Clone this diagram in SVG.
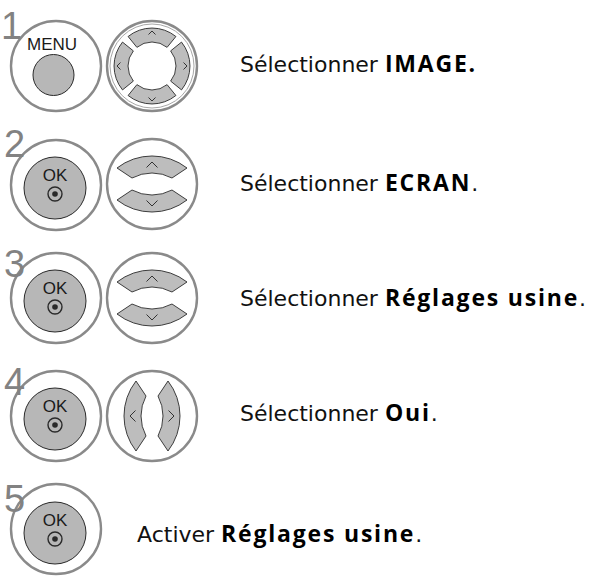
<svg xmlns="http://www.w3.org/2000/svg" xmlns:xlink="http://www.w3.org/1999/xlink" width="595" height="577" viewBox="0 0 595 577">
<style>
.ring{fill:#fff;stroke:#8a8a8a;stroke-width:2.4}
.ring2{fill:none;stroke:#a8a8a8;stroke-width:1}
.btn{fill:#b7b7b7;stroke:#2a2a2a;stroke-width:1}
.seg{fill:#bdbdbd;stroke:#2a2a2a;stroke-width:0.9;stroke-linejoin:round}
.chev{fill:none;stroke:#333;stroke-width:1}
.num{font-family:"Liberation Sans",Arial,sans-serif;font-size:38px;fill:#828282}
.lbl{font-family:"Liberation Sans",Arial,sans-serif;fill:#1a1a1a;text-anchor:middle}
.txt{font-family:"DejaVu Sans","Liberation Sans",sans-serif;font-size:22px;fill:#111}
.b{font-family:"Open Sans","DejaVu Sans",sans-serif;font-size:23px;font-weight:bold;letter-spacing:1.8px;fill:#000}
</style>
<defs>
<path id="arcseg" d="M-35,-16 A57,57 0 0 1 35,-16 L20,-6 A42.5,42.5 0 0 0 -20,-6 Z"/>
<path id="arcchev" d="M-5.5,-16.5 L0,-22 L5.5,-16.5"/>
<path id="ringseg" d="M-23.9,-29.5 A38,38 0 0 1 23.9,-29.5 L15.1,-18.65 A24,24 0 0 0 -15.1,-18.65 Z"/>
<path id="ringchev" d="M-3.5,-31.5 L0,-35 L3.5,-31.5"/>
<g id="okbtn">
<circle class="btn" cx="0" cy="3" r="31"/>
<text class="lbl" x="0" y="-4" font-size="17">OK</text>
<circle cx="0" cy="9" r="7" fill="none" stroke="#2a2a2a" stroke-width="1.4"/>
<circle cx="0" cy="9" r="2.8" fill="#2a2a2a"/>
</g>
</defs>

<g id="step1">
<circle class="ring" cx="56" cy="66" r="45"/>
<text class="num" x="1" y="39">1</text>
<text class="lbl" x="52" y="50" font-size="17">MENU</text>
<circle class="btn" cx="53.5" cy="75" r="20.5"/>
<g transform="translate(152,66)">
<circle class="ring" cx="0" cy="0" r="45"/>
<circle class="ring2" cx="0" cy="0" r="42"/>
<use xlink:href="#ringseg" class="seg"/>
<use xlink:href="#ringseg" class="seg" transform="scale(1,-1)"/>
<use xlink:href="#ringseg" class="seg" transform="rotate(-90)"/>
<use xlink:href="#ringseg" class="seg" transform="rotate(90)"/>
<use xlink:href="#ringchev" class="chev"/>
<use xlink:href="#ringchev" class="chev" transform="scale(1,-1)"/>
<use xlink:href="#ringchev" class="chev" transform="rotate(-90)"/>
<use xlink:href="#ringchev" class="chev" transform="rotate(90)"/>
</g>
<text class="txt" x="240" y="72">Sélectionner <tspan class="b">IMAGE.</tspan></text>
</g>

<g id="step2">
<circle class="ring" cx="56" cy="185" r="45"/>
<text class="num" x="4" y="157">2</text>
<use xlink:href="#okbtn" transform="translate(55,185)"/>
<g transform="translate(152,184)">
<circle class="ring" cx="0" cy="0" r="45"/>
<use xlink:href="#arcseg" class="seg"/>
<use xlink:href="#arcseg" class="seg" transform="scale(1,-1)"/>
<use xlink:href="#arcchev" class="chev"/>
<use xlink:href="#arcchev" class="chev" transform="scale(1,-1)"/>
</g>
<text class="txt" x="240" y="191">Sélectionner <tspan class="b">ECRAN</tspan>.</text>
</g>

<g id="step3">
<circle class="ring" cx="56" cy="298" r="45"/>
<text class="num" x="4" y="277">3</text>
<use xlink:href="#okbtn" transform="translate(55,298)"/>
<g transform="translate(152,298)">
<circle class="ring" cx="0" cy="0" r="45"/>
<use xlink:href="#arcseg" class="seg"/>
<use xlink:href="#arcseg" class="seg" transform="scale(1,-1)"/>
<use xlink:href="#arcchev" class="chev"/>
<use xlink:href="#arcchev" class="chev" transform="scale(1,-1)"/>
</g>
<text class="txt" x="240" y="306">Sélectionner <tspan class="b">Réglages usine</tspan>.</text>
</g>

<g id="step4">
<circle class="ring" cx="56" cy="416" r="45"/>
<text class="num" x="4" y="395">4</text>
<use xlink:href="#okbtn" transform="translate(55,416)"/>
<g transform="translate(152,416)">
<circle class="ring" cx="0" cy="0" r="45"/>
<use xlink:href="#arcseg" class="seg" transform="rotate(-90)"/>
<use xlink:href="#arcseg" class="seg" transform="rotate(90)"/>
<use xlink:href="#arcchev" class="chev" transform="rotate(-90)"/>
<use xlink:href="#arcchev" class="chev" transform="rotate(90)"/>
</g>
<text class="txt" x="240" y="421">Sélectionner <tspan class="b">Oui</tspan>.</text>
</g>

<g id="step5">
<circle class="ring" cx="56" cy="529" r="45"/>
<text class="num" x="4" y="512">5</text>
<use xlink:href="#okbtn" transform="translate(55,530)"/>
<text class="txt" x="137" y="542">Activer <tspan class="b">Réglages usine</tspan>.</text>
</g>
</svg>
